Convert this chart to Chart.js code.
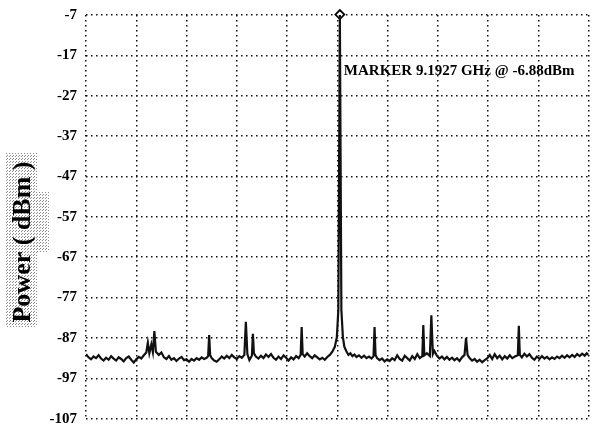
<!DOCTYPE html>
<html>
<head>
<meta charset="utf-8">
<script src="https://cdn.jsdelivr.net/npm/chart.js@4.4.1/dist/chart.umd.min.js"></script>
<style>
  body { margin: 0; background: #fff; }
  #mycanvas { display: block; }
</style>
</head>
<body>
<canvas id="mycanvas" width="595" height="425"></canvas>
<script>
// x position in screen divisions (0..100, centre = 9.1927 GHz), power in dBm
var freqDiv = [
  0, 0.5, 1, 1.5, 2, 2.5, 3, 3.5, 4, 4.5, 5, 5.5, 6, 6.5, 7, 7.5, 8, 8.5, 9, 9.5,
  10, 10.5, 11, 11.5, 12, 12.3, 12.6, 13.0, 13.3, 13.6, 13.9, 14.5, 15, 15.5, 16, 16.5,
  17, 17.5, 18, 18.5, 19, 19.5, 20, 20.5, 21, 21.5, 22, 22.5, 23, 23.5, 24, 24.3,
  24.5, 24.7, 25, 25.5, 26, 26.5, 27, 27.5, 28, 28.5, 29, 29.5, 30, 30.5, 31, 31.5,
  31.8, 32.1, 32.5, 33, 33.2, 33.4, 33.8, 34.3, 34.8, 35.3, 35.8, 36.3, 36.8, 37.3,
  37.8, 38.3, 38.8, 39.3, 39.8, 40.3, 40.8, 41.3, 41.8, 42.3, 42.7, 42.9, 43.1, 43.5,
  44, 44.5, 45, 45.5, 46, 46.5, 47, 47.5, 48, 48.5, 49, 49.5, 49.9, 50.2, 50.5, 50.8,
  51.1, 51.4, 51.8, 52.2, 52.6, 53.0, 53.4, 53.8, 54.3, 54.8, 55.3, 55.8, 56.3, 56.8,
  57.2, 57.4, 57.6, 57.9, 58.4, 58.9, 59.4, 59.9, 60.4, 60.9, 61.4, 61.9, 62.4, 62.9,
  63.4, 63.9, 64.4, 64.9, 65.4, 65.9, 66.4, 66.9, 67.1, 67.3, 67.8, 68.4, 68.7, 69.0,
  69.3, 69.8, 70.3, 70.8, 71.3, 71.8, 72.3, 72.8, 73.3, 73.8, 74.3, 74.8, 75.3, 75.6,
  75.9, 76.3, 76.8, 77.3, 77.8, 78.3, 78.8, 79.3, 79.8, 80.3, 80.8, 81.3, 81.8, 82.3,
  82.8, 83.3, 83.8, 84.3, 84.8, 85.3, 85.9, 86.1, 86.3, 86.7, 87.2, 87.7, 88.2, 88.7,
  89.2, 89.7, 90.2, 90.7, 91.2, 91.7, 92.2, 92.7, 93.2, 93.7, 94.2, 94.7, 95.2, 95.7,
  96.2, 96.7, 97.2, 97.7, 98.2, 98.7, 99.2, 99.6, 100
];
var powerDbm = [
  -91.0, -91.8, -92.3, -91.6, -92.0, -91.3, -92.1, -92.6, -91.9, -92.4, -91.5, -92.1, -92.6, -91.8, -92.2, -92.8, -92.0, -91.6, -92.4, -93.1,
  -92.3, -91.7, -92.1, -91.3, -90.6, -88.2, -90.8, -88.6, -90.5, -85.3, -90.4, -91.2, -90.6, -91.8, -92.2, -91.5,
  -92.4, -92.0, -92.7, -92.1, -91.7, -92.5, -92.3, -92.9, -92.2, -92.6, -92.0, -92.4, -91.8, -92.2, -91.9, -91.5,
  -86.3, -91.3, -92.0, -92.6, -92.9, -92.3, -91.6, -92.1, -91.4, -92.0, -91.2, -91.8, -92.2, -91.5, -91.9, -91.2,
  -83.0, -91.0, -92.5, -91.4, -86.0, -90.8, -91.6, -92.1, -91.4, -92.0, -91.1, -91.7, -91.0, -91.9,
  -92.4, -91.6, -92.2, -91.3, -91.9, -92.6, -91.8, -92.3, -91.5, -92.0, -91.2, -84.3, -91.0, -91.6,
  -90.8, -91.5, -92.0, -91.3, -91.8, -92.3, -91.9, -92.4, -91.7, -91.2, -90.4, -89.2, -86.8, -80.0, -6.88, -80.0,
  -86.8, -89.2, -90.3, -91.2, -90.8, -91.5, -91.1, -91.7, -91.3, -91.9, -91.4, -92.0, -91.6, -92.1,
  -91.5, -84.3, -91.2, -92.0, -92.5, -92.1, -92.8, -92.3, -92.7, -92.0, -92.5, -91.3, -92.2, -92.6,
  -91.4, -92.0, -92.6, -91.5, -92.2, -91.0, -92.0, -91.5, -83.8, -91.3, -90.8, -91.5, -81.4, -91.0,
  -90.2, -91.4, -92.1, -91.6, -92.3, -91.7, -92.4, -91.9, -92.5, -92.0, -92.7, -91.8, -91.2, -87.0,
  -91.2, -92.0, -92.6, -92.2, -92.9, -92.4, -93.0, -92.5, -92.1, -91.2, -92.2, -91.0, -92.0, -91.4,
  -92.3, -91.5, -92.1, -91.3, -92.0, -91.6, -91.3, -84.0, -91.2, -91.8, -90.9, -91.6, -91.0, -91.9,
  -92.4, -91.6, -92.2, -91.5, -92.1, -91.7, -92.3, -91.8, -92.2, -91.6, -92.0, -91.4, -91.9, -91.3,
  -91.8, -91.2, -91.7, -91.0, -91.5, -90.9, -91.4, -90.8, -91.2
];
var yTicks = [-107, -97, -87, -77, -67, -57, -47, -37, -27, -17, -7];
var markerDiv = 50.5;
var markerDbm = -6.88;
var markerLabel = 'MARKER 9.1927 GHz @ -6.88dBm';
var yTitle = 'Power ( dBm )';

var trace = [];
for (var i in freqDiv) {
  trace.push({x: freqDiv[i], y: powerDbm[i]});
}

var serif = "'Liberation Serif', 'Times New Roman', serif";

// halftone look for the shaded title box
function stipple(c) {
  var t = document.createElement('canvas');
  t.width = 3; t.height = 3;
  var tc = t.getContext('2d');
  tc.fillStyle = '#fff';
  tc.fillRect(0, 0, 3, 3);
  tc.fillStyle = '#8a8a8a';
  tc.fillRect(0, 0, 1, 1);
  tc.fillRect(1, 2, 1, 1);
  return c.createPattern(t, 'repeat');
}

var textPlugin = {
  id: 'texts',
  beforeDraw: function(chart) {
    var c = chart.ctx;
    c.save();
    c.fillStyle = stipple(c);
    c.fillRect(6, 153, 31, 174);
    c.fillRect(37, 192, 12, 60);
    c.translate(22, 242);
    c.rotate(-Math.PI / 2);
    c.fillStyle = '#000';
    c.font = 'bold 26px ' + serif;
    c.textAlign = 'center';
    c.textBaseline = 'middle';
    c.fillText(yTitle, 0, 1);
    c.restore();
  },
  afterDraw: function(chart) {
    var c = chart.ctx;
    var xs = chart.scales.x;
    c.save();
    c.fillStyle = '#000';
    c.font = 'bold 15px ' + serif;
    c.textAlign = 'left';
    c.textBaseline = 'alphabetic';
    c.fillText(markerLabel, xs.getPixelForValue(markerDiv) + 4, 75);
    c.restore();
  }
};

var ctx = document.getElementById('mycanvas');
var spectrum = new Chart(ctx, {
  type: 'scatter',
  data: {
    datasets: [
      {
        label: 'trace',
        data: trace,
        showLine: true,
        borderColor: '#111',
        borderWidth: 2.2,
        pointRadius: 0,
        tension: 0
      },
      {
        label: 'marker',
        data: [{x: markerDiv, y: markerDbm}],
        clip: false,
        pointStyle: 'rectRot',
        pointRadius: 4.5,
        pointBackgroundColor: '#fff',
        pointBorderColor: '#000',
        pointBorderWidth: 1.8
      }
    ]
  },
  options: {
    responsive: false,
    animation: false,
    layout: { padding: { top: 15, right: 2, bottom: 2, left: 0 } },
    plugins: { legend: { display: false }, tooltip: { enabled: false } },
    scales: {
      x: {
        type: 'linear',
        min: 0,
        max: 100,
        afterFit: function(scale) {
          scale.height = 0;
          scale.paddingLeft = 0;
          scale.paddingRight = 0;
        },
        ticks: { display: false, stepSize: 10 },
        grid: { color: '#111', lineWidth: 1.5, drawTicks: false },
        border: { display: false, dash: [1.5, 3.5] }
      },
      y: {
        min: -107,
        max: -7,
        afterBuildTicks: function(scale) {
          scale.ticks = yTicks.map(function(v) { return {value: v}; });
        },
        afterFit: function(scale) {
          scale.width = 86;
          scale.paddingTop = 0;
          scale.paddingBottom = 0;
        },
        ticks: {
          color: '#000',
          padding: 9,
          font: { family: serif, size: 15, weight: 'bold' }
        },
        grid: { color: '#111', lineWidth: 1.5, drawTicks: false },
        border: { display: false, dash: [1.5, 3.5] }
      }
    }
  },
  plugins: [textPlugin]
});
</script>
</body>
</html>
